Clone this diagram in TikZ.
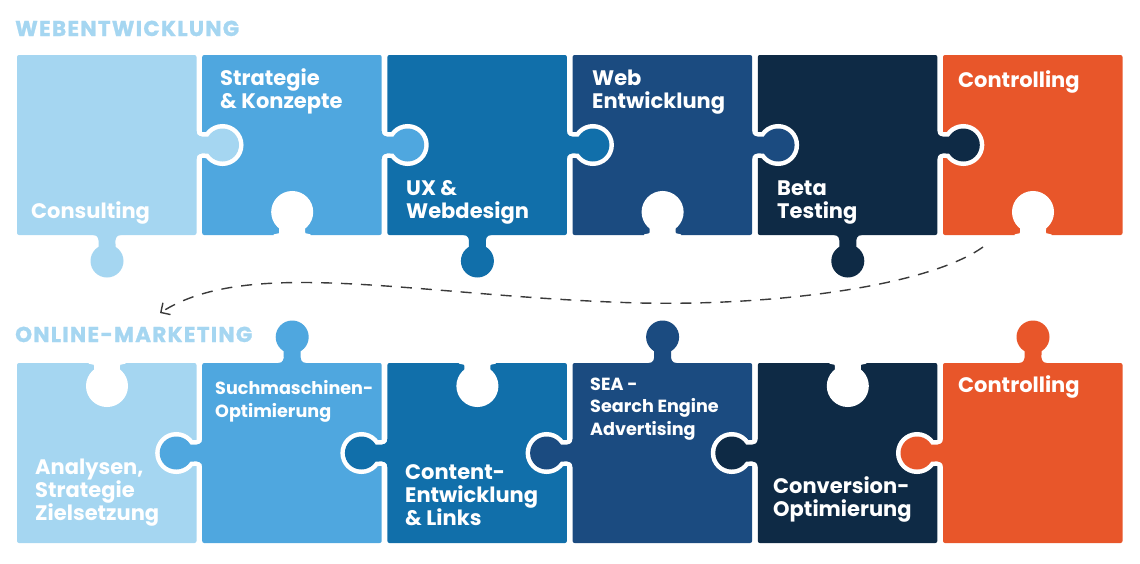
\documentclass[tikz,border=0pt]{standalone}
\usepackage{fontspec}
\setmainfont{Poppins}
\usetikzlibrary{arrows.meta}

\definecolor{pzone}{HTML}{A5D6F1}
\definecolor{pztwo}{HTML}{4FA7DF}
\definecolor{pzthree}{HTML}{116FAA}
\definecolor{pzfour}{HTML}{1B4B80}
\definecolor{pzfive}{HTML}{0E2A45}
\definecolor{pzsix}{HTML}{E8562A}
\definecolor{arrowgray}{HTML}{3A3A3A}

\tikzset{
  knob/.pic={
    % white rim first, then the colour
    \draw[white, line width=9pt] (-14,-3) -- (-14,0) .. controls (-9,0) and (-8,4) .. (-8.5,9) -- (-8.5,20) -- (8.5,20) -- (8.5,9) .. controls (8,4) and (9,0) .. (14,0) -- (14,-3) -- cycle;
    \draw[white, line width=9pt] (0,26) circle (16.5);
    \fill[#1] (-14,-3) -- (-14,0) .. controls (-9,0) and (-8,4) .. (-8.5,9) -- (-8.5,20) -- (8.5,20) -- (8.5,9) .. controls (8,4) and (9,0) .. (14,0) -- (14,-3) -- cycle;
    \fill[#1] (0,26) circle (16.5);
  }
}

\begin{document}
\begin{tikzpicture}[x=1pt,y=-1pt,
    tag/.style={font=\fontsize{21}{23}\selectfont\bfseries, text=white, anchor=base west, inner sep=0pt, align=left},
    smalltag/.style={tag, font=\fontsize{17.6}{22.5}\selectfont\bfseries},
    heading/.style={font=\fontsize{21.5}{24}\selectfont\bfseries\addfontfeatures{LetterSpace=6,FakeBold=1.2}, text=pzone, anchor=base west, inner sep=0pt},
    flow/.style={arrowgray, line width=1.4pt, dash pattern=on 11pt off 9pt, -{Straight Barb[length=7pt,width=14pt]}},
    ]
    \useasboundingbox (0,0) rectangle (1140,563);

    % top row, right to left so every tab lies on its neighbour
    \foreach \i/\col in {5/pzsix,4/pzfive,3/pzfour,2/pzthree,1/pztwo,0/pzone} {
        \pgfmathsetmacro{\left}{17+185.2*\i}
        \ifnum\i<5 \pic[rotate=90] at (\left+179.5,145) {knob=\col}; \fi
        \ifodd\i \else \pic at (\left+90,235) {knob=\col}; \fi
        \fill[\col, rounded corners=2pt] (\left,55) rectangle ++(179.5,180);
    }
    \foreach \i in {1,3,5} {
        \pic[rotate=180] at (17+185.2*\i+90,238) {knob=white};
    }

    % bottom row, left to right
    \foreach \i/\col in {0/pzone,1/pztwo,2/pzthree,3/pzfour,4/pzfive,5/pzsix} {
        \pgfmathsetmacro{\left}{17+185.2*\i}
        \ifnum\i>0 \pic[rotate=-90] at (\left,453) {knob=\col}; \fi
        \ifodd\i \pic[rotate=180] at (\left+90,363) {knob=\col}; \fi
        \fill[\col, rounded corners=2pt] (\left,363) rectangle ++(179.5,180);
    }
    \foreach \i in {0,2,4} {
        \pic at (17+185.2*\i+90,360) {knob=white};
    }

    % headings
    \node[heading] (web) at (15,36) {WEBENTWICKLUNG};
    \node[heading] (online) at (15,342) {ONLINE-MARKETING};

    % labels, top row (anchored on the last line)
    \node[tag] (consulting) at (31,218) {Consulting};
    \node[tag] (strategie) at (220,108) {Strategie\\\& Konzepte};
    \node[tag] (ux) at (406,218) {UX \&\\Webdesign};
    \node[tag] (webdev) at (592,108) {Web\\Entwicklung};
    \node[tag] (beta) at (777,218) {Beta\\Testing};
    \node[tag] (controltop) at (958,87) {Controlling};

    % labels, bottom row
    \node[tag] (analysen) at (35,520) {Analysen,\\Strategie\\Zielsetzung};
    \node[smalltag] (seo) at (215,417) {Suchmaschinen-\\Optimierung};
    \node[tag] (content) at (405,525) {Content-\\Entwicklung\\\& Links};
    \node[smalltag] (sea) at (590,435) {SEA -\\Search Engine\\Advertising};
    \node[tag] (conversion) at (773,516) {Conversion-\\Optimierung};
    \node[tag] (controlbottom) at (958,392) {Controlling};

    % dashed link from the first row to the second
    \coordinate (flowstart) at (983,247);
    \coordinate (flowbend) at (640,303);
    \coordinate (flowend) at (160,313);
    \draw[flow] (flowstart) .. controls (930,285) and (780,306) .. (flowbend)
        .. controls (420,297) and (250,255) .. (flowend);
\end{tikzpicture}
\end{document}
